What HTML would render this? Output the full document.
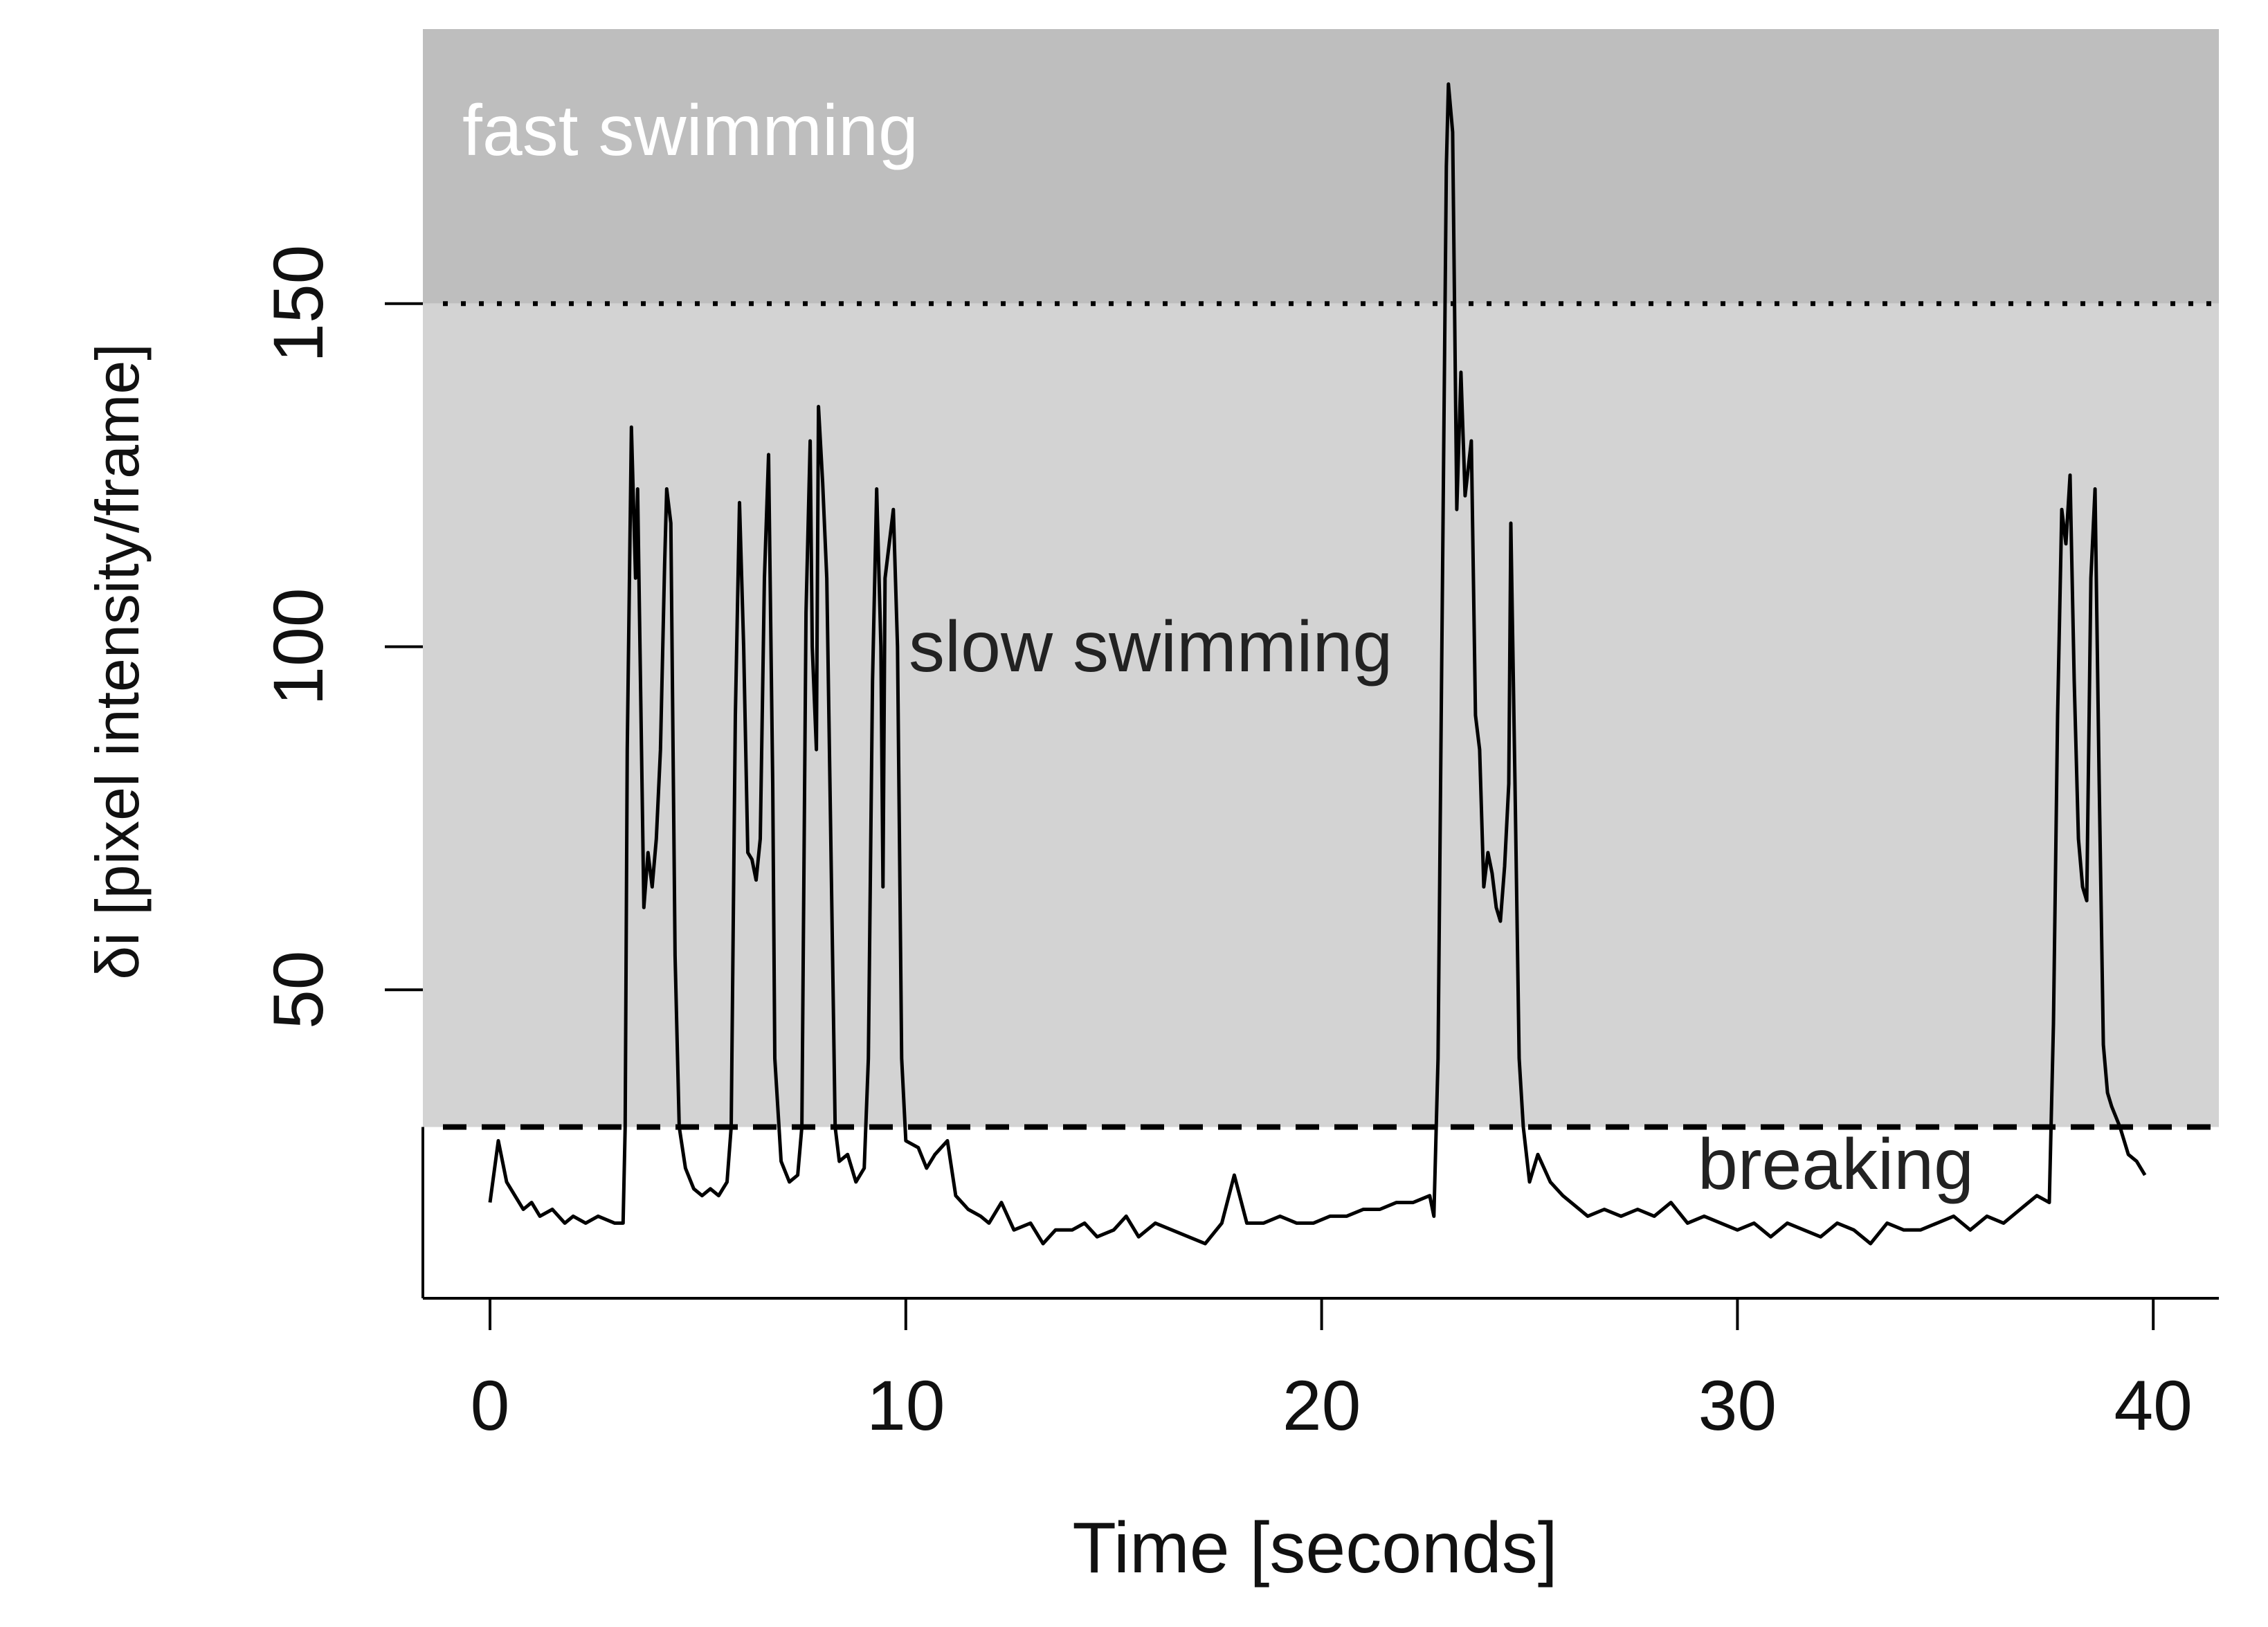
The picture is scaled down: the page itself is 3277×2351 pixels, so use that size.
<!DOCTYPE html>
<html><head><meta charset="utf-8"><style>
html,body{margin:0;padding:0;background:#fff}
svg{display:block}
text{font-family:"Liberation Sans",sans-serif}
</style></head><body>
<svg id="chart" width="3277" height="2351" viewBox="0 0 3277 2351" xmlns="http://www.w3.org/2000/svg">
<g id="bg"></g>
<g id="axes"></g>
<g id="series"></g>
<g id="labels"></g>
</svg>
<script>
const times=[0,0.2,0.4,0.6,0.8,1.0,1.2,1.5,1.8,2.0,2.3,2.6,3.0,3.2,3.25,3.3,3.4,3.5,3.55,3.7,3.8,3.9,4.0,4.1,4.2,4.25,4.35,4.45,4.55,4.7,4.9,5.1,5.3,5.5,5.7,5.8,5.9,6.0,6.1,6.2,6.3,6.4,6.5,6.6,6.7,6.8,6.85,7.0,7.2,7.4,7.5,7.6,7.7,7.75,7.85,7.9,8.0,8.1,8.2,8.3,8.4,8.6,8.8,9.0,9.1,9.2,9.3,9.4,9.45,9.5,9.6,9.7,9.8,9.9,10.0,10.3,10.5,10.7,11.0,11.2,11.5,11.8,12.0,12.3,12.6,13.0,13.3,13.6,14.0,14.3,14.6,15.0,15.3,15.6,16.0,16.4,16.8,17.2,17.6,17.9,18.2,18.6,19.0,19.4,19.8,20.2,20.6,21.0,21.4,21.8,22.2,22.6,22.7,22.8,22.9,23.0,23.05,23.15,23.25,23.35,23.45,23.6,23.7,23.8,23.9,24.0,24.1,24.2,24.3,24.4,24.5,24.55,24.65,24.75,24.85,25.0,25.2,25.5,25.8,26.0,26.4,26.8,27.2,27.6,28.0,28.4,28.8,29.2,29.6,30.0,30.4,30.8,31.2,31.6,32.0,32.4,32.8,33.2,33.6,34.0,34.4,34.8,35.2,35.6,36.0,36.4,36.8,37.2,37.5,37.6,37.7,37.8,37.9,38.0,38.1,38.2,38.3,38.4,38.5,38.6,38.7,38.8,38.9,39.0,39.2,39.4,39.6,39.8];
const values=[19,28,22,20,18,19,17,18,16,17,16,17,16,16,30,85,132,110,123,62,70,65,72,85,112,123,118,55,30,24,21,20,21,20,22,30,90,121,100,70,69,66,72,110,128,80,40,25,22,23,30,105,130,100,85,135,124,110,70,30,25,26,22,24,40,95,123,100,65,110,115,120,100,40,28,27,24,26,28,20,18,17,16,19,15,16,13,15,15,16,14,15,17,14,16,15,14,13,16,23,16,16,17,16,16,17,17,18,18,19,19,20,17,40,105,170,182,175,120,140,122,130,90,85,65,70,67,62,60,68,80,118,80,40,30,22,26,22,20,19,17,18,17,18,17,19,16,17,16,15,16,14,16,15,14,16,15,13,16,15,15,16,17,15,17,16,18,20,19,45,90,120,115,125,95,72,65,63,110,123,80,42,35,33,30,26,25,23];
const xTicks=[0,10,20,30,40];
const yTicks=[50,100,150];
const thresholds=[30,150];
const NS="http://www.w3.org/2000/svg";
const L=611,R=3206,T=42,B=1876;
const xS=v=>708+v*60.08;
const yS=v=>1926-v*9.915;
function mk(tag,attrs,parent,txt){const e=document.createElementNS(NS,tag);for(const k in attrs)e.setAttribute(k,attrs[k]);if(txt!==undefined)e.textContent=txt;document.getElementById(parent).appendChild(e);return e;}
let e;
e=mk('rect',{x:L,y:T,width:R-L,height:yS(thresholds[1])-T,fill:'#bebebe'},'bg');


e=mk('rect',{x:L,y:yS(thresholds[1]),width:R-L,height:yS(thresholds[0])-yS(thresholds[1]),fill:'#d3d3d3'},'bg');


e=mk('line',{x1:640,x2:R,y1:yS(thresholds[1]),y2:yS(thresholds[1]),stroke:'#000','stroke-width':7,'stroke-dasharray':'7 19'},'bg');


e=mk('line',{x1:640,x2:R,y1:yS(thresholds[0]),y2:yS(thresholds[0]),stroke:'#000','stroke-width':8,'stroke-dasharray':'34 22'},'bg');


e=mk('line',{x1:L,x2:L,y1:yS(thresholds[0]),y2:B,stroke:'#000','stroke-width':4},'axes');


e=mk('line',{x1:L,x2:R,y1:B,y2:B,stroke:'#000','stroke-width':4},'axes');


xTicks.forEach(t=>{
 e=mk('line',{x1:xS(t),x2:xS(t),y1:B,y2:B+46,stroke:'#000','stroke-width':4},'axes');
 
 
 e=mk('text',{x:xS(t),y:2066,'font-size':102,'text-anchor':'middle',fill:'#111'},'axes',String(t));
 
 
});
yTicks.forEach(t=>{
 e=mk('line',{x1:L-55,x2:L,y1:yS(t),y2:yS(t),stroke:'#000','stroke-width':4},'axes');
 
 
 e=mk('text',{x:0,y:0,'font-size':102,'text-anchor':'middle',fill:'#111',transform:`translate(466,${yS(t)}) rotate(-90)`},'axes',String(t));
 
 
});
e=mk('text',{x:1900,y:2272,'font-size':104,'text-anchor':'middle',fill:'#111'},'axes','Time [seconds]');


e=mk('text',{x:0,y:0,'font-size':88,'text-anchor':'middle',fill:'#111',transform:'translate(200,956) rotate(-90)'},'axes','δi [pixel intensity/frame]');


e=mk('polyline',{points:times.map((t,i)=>xS(t).toFixed(1)+','+yS(values[i]).toFixed(1)).join(' '),fill:'none',stroke:'#000','stroke-width':5,'stroke-linejoin':'round'},'series');


e=mk('text',{x:668,y:224,'font-size':104,fill:'#fff'},'labels','fast swimming');


e=mk('text',{x:1313,y:970,'font-size':104,fill:'#222'},'labels','slow swimming');


e=mk('text',{x:2453,y:1718,'font-size':104,fill:'#222'},'labels','breaking');


</script>
</body></html>
